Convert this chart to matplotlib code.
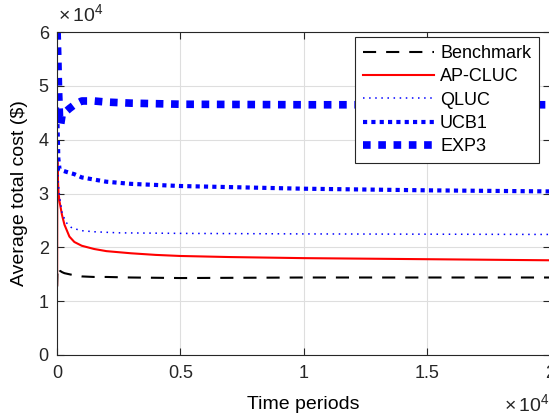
import matplotlib.pyplot as plt
from matplotlib.ticker import FuncFormatter

plt.rcParams['font.family'] = ['Liberation Sans', 'DejaVu Sans']
plt.rcParams['mathtext.fontset'] = 'custom'
plt.rcParams['mathtext.rm'] = 'Liberation Sans'

# average total cost per algorithm over time periods
t_bench = [0, 20, 50, 100, 200, 300, 500, 700, 1000, 1500, 2000, 3000, 5000, 10000, 20000]
benchmark = [12700, 16300, 16200, 15700, 15400, 15200, 15000, 14800, 14600, 14500, 14500,
             14400, 14300, 14400, 14400]

t_ap = [0, 10, 30, 60, 100, 200, 300, 500, 700, 1000, 1500, 2000, 3000, 4000, 5000,
        7000, 10000, 15000, 20000]
ap_cluc = [13000, 36000, 33000, 30000, 28500, 26000, 24200, 22000, 21000, 20300, 19700,
           19300, 18900, 18600, 18400, 18200, 18000, 17800, 17600]

t_q = [0, 50, 100, 200, 350, 600, 1000, 1500, 2500, 5000, 10000, 20000]
qluc = [38000, 32000, 29500, 26500, 24700, 23600, 23100, 22900, 22700, 22600, 22500, 22400]

t_ucb = [0, 50, 100, 200, 400, 700, 1000, 1500, 2000, 3000, 4000, 5000, 7000, 10000,
         15000, 20000]
ucb1 = [46000, 36500, 34500, 34300, 34000, 33600, 33000, 32600, 32200, 31800, 31600,
        31400, 31200, 30900, 30600, 30400]

t_exp = [0, 30, 60, 100, 150, 200, 300, 500, 700, 1000, 1500, 2000, 3000, 5000, 10000, 20000]
exp3 = [60000, 55000, 49000, 44000, 43000, 44500, 45000, 45800, 46500, 47200, 47200,
        47000, 46800, 46600, 46500, 46500]

blue = (0, 0, 1)
fig = plt.figure(figsize=(5.49, 4.15), dpi=100)
ax = fig.add_axes([0.104, 0.1446, 0.898, 0.778])

ax.plot(t_bench, benchmark, color='black', lw=1.5, dashes=(6.3, 4.8), label='Benchmark')
ax.plot(t_ap, ap_cluc, color='red', lw=1.5, label='AP-CLUC')
ax.plot(t_q, qluc, color=blue, lw=1.1, dashes=(1, 3), label='QLUC')
ax.plot(t_ucb, ucb1, color=blue, lw=3, dashes=(1, 1), label='UCB1')
ax.plot(t_exp, exp3, color=blue, lw=5.5, dashes=(1, 1), label='EXP3')

ax.set_xlim(0, 20000)
ax.set_ylim(0, 60000)
ax.set_xticks([0, 5000, 10000, 15000, 20000])
ax.set_yticks(range(0, 60001, 10000))
ax.xaxis.set_major_formatter(FuncFormatter(lambda v, _: f"{v / 1e4:g}"))
ax.yaxis.set_major_formatter(FuncFormatter(lambda v, _: f"{v / 1e4:g}"))
ax.tick_params(direction='in', length=5, width=0.8, colors='#262626', labelsize=13,
               top=True, right=True)
ax.tick_params(axis='x', pad=7)
ax.tick_params(axis='y', pad=6)
for s in ax.spines.values():
    s.set_color('#262626')
    s.set_linewidth(0.8)
ax.grid(True, color='#dedede', lw=0.8)
ax.set_axisbelow(True)

ax.set_xlabel('Time periods', fontsize=14, color='black', labelpad=10.5)
ax.set_ylabel('Average total cost ($)', fontsize=14, color='black', labelpad=8)

fig.text(0.106, 0.94, r'$\times\mathregular{\,10^{4}}$', fontsize=14, color='#262626', va='bottom')
fig.text(0.918, 0.0, r'$\times\mathregular{\,10^{4}}$', fontsize=14, color='#262626', va='bottom')

leg = ax.legend(loc='upper right', bbox_to_anchor=(0.978, 0.985), fontsize=13,
                handlelength=3.9, handletextpad=0.35, labelspacing=0.35, borderaxespad=0,
                fancybox=False, framealpha=1, edgecolor='#262626', borderpad=0.45)
leg.get_frame().set_linewidth(0.8)

fig.savefig('out.png', dpi=100)
